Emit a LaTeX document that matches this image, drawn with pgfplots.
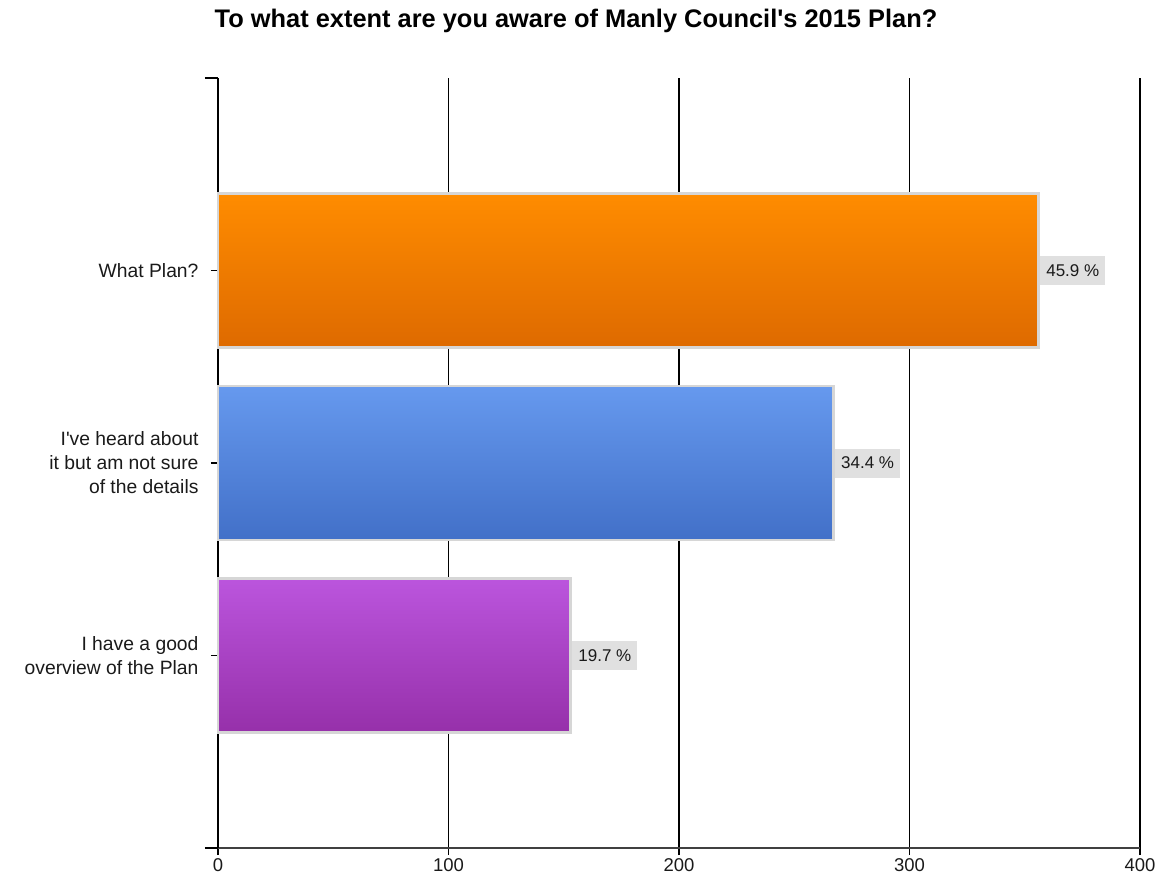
\documentclass[border=0pt]{standalone}
\usepackage{fontspec}
\setmainfont{Liberation Sans}
\usepackage{pgfplots}
\pgfplotsset{compat=1.18}
\definecolor{orT}{HTML}{FF8C00}
\definecolor{orB}{HTML}{DE6A00}
\definecolor{blT}{HTML}{6699EE}
\definecolor{blB}{HTML}{4270C8}
\definecolor{puT}{HTML}{BB55DD}
\definecolor{puB}{HTML}{9630AA}
\definecolor{bord}{HTML}{D6D6D6}
\definecolor{lblbg}{HTML}{E0E0E0}
\definecolor{txt}{HTML}{1A1A1A}
\begin{document}
\begin{tikzpicture}
\begin{axis}[
  at={(0,0)}, anchor=south west,
  scale only axis, width=922bp, height=770bp,
  xmin=0, xmax=400, ymin=-1, ymax=3, y dir=reverse,
  axis x line*=bottom, axis y line*=left,
  x axis line style={-, draw=black!75, line width=1.6bp},
  y axis line style={-, draw=black, line width=1.6bp},
  xtick={0,100,200,300,400},
  ytick={0,1,2},
  yticklabels={What Plan?,{I\textquotesingle ve heard about\\it but am not sure\\of the details},{I have a good\\overview of the Plan}},
  tick align=outside,
  major tick length=7bp,
  every tick/.style={black, line width=1.5bp},
  extra y ticks={-1,3},
  extra y tick labels={},
  extra y tick style={major tick length=13bp, grid=none},
  xmajorgrids, ymajorgrids=false,
  major grid style={black, line width=1.4bp},
  /pgf/number format/assume math mode=true,
  xticklabel style={font=\fontsize{18.5bp}{22bp}\selectfont, text=txt},
  yticklabel style={font=\fontsize{19.3bp}{24bp}\selectfont, text=txt, align=right, xshift=-9bp},
  point meta=explicit,
  nodes near coords={\pgfmathprintnumber[fixed,precision=1,fixed zerofill]{\pgfplotspointmeta} \%},
  every node near coord/.append style={anchor=west, fill=lblbg, font=\fontsize{17bp}{20bp}\selectfont, text=txt, inner xsep=6bp, minimum height=29bp, xshift=0.5bp},
  clip=false,
]
\addplot[xbar, bar width=0.8, bar shift=0pt, draw=bord, line width=2.5bp, top color=orT, bottom color=orB] coordinates {(356,0) [45.9]};
\addplot[xbar, bar width=0.8, bar shift=0pt, draw=bord, line width=2.5bp, top color=blT, bottom color=blB] coordinates {(267,1) [34.4]};
\addplot[xbar, bar width=0.8, bar shift=0pt, draw=bord, line width=2.5bp, top color=puT, bottom color=puB] coordinates {(153,2) [19.7]};
\end{axis}
\node[font=\bfseries\fontsize{25.4bp}{29bp}\selectfont, text=black] at (358bp,827bp) {To what extent are you aware of Manly Council\textquotesingle s 2015 Plan?};
\pgfresetboundingbox
\path[use as bounding box] (-218bp,-34bp) rectangle (944bp,848bp);
\end{tikzpicture}
\end{document}
